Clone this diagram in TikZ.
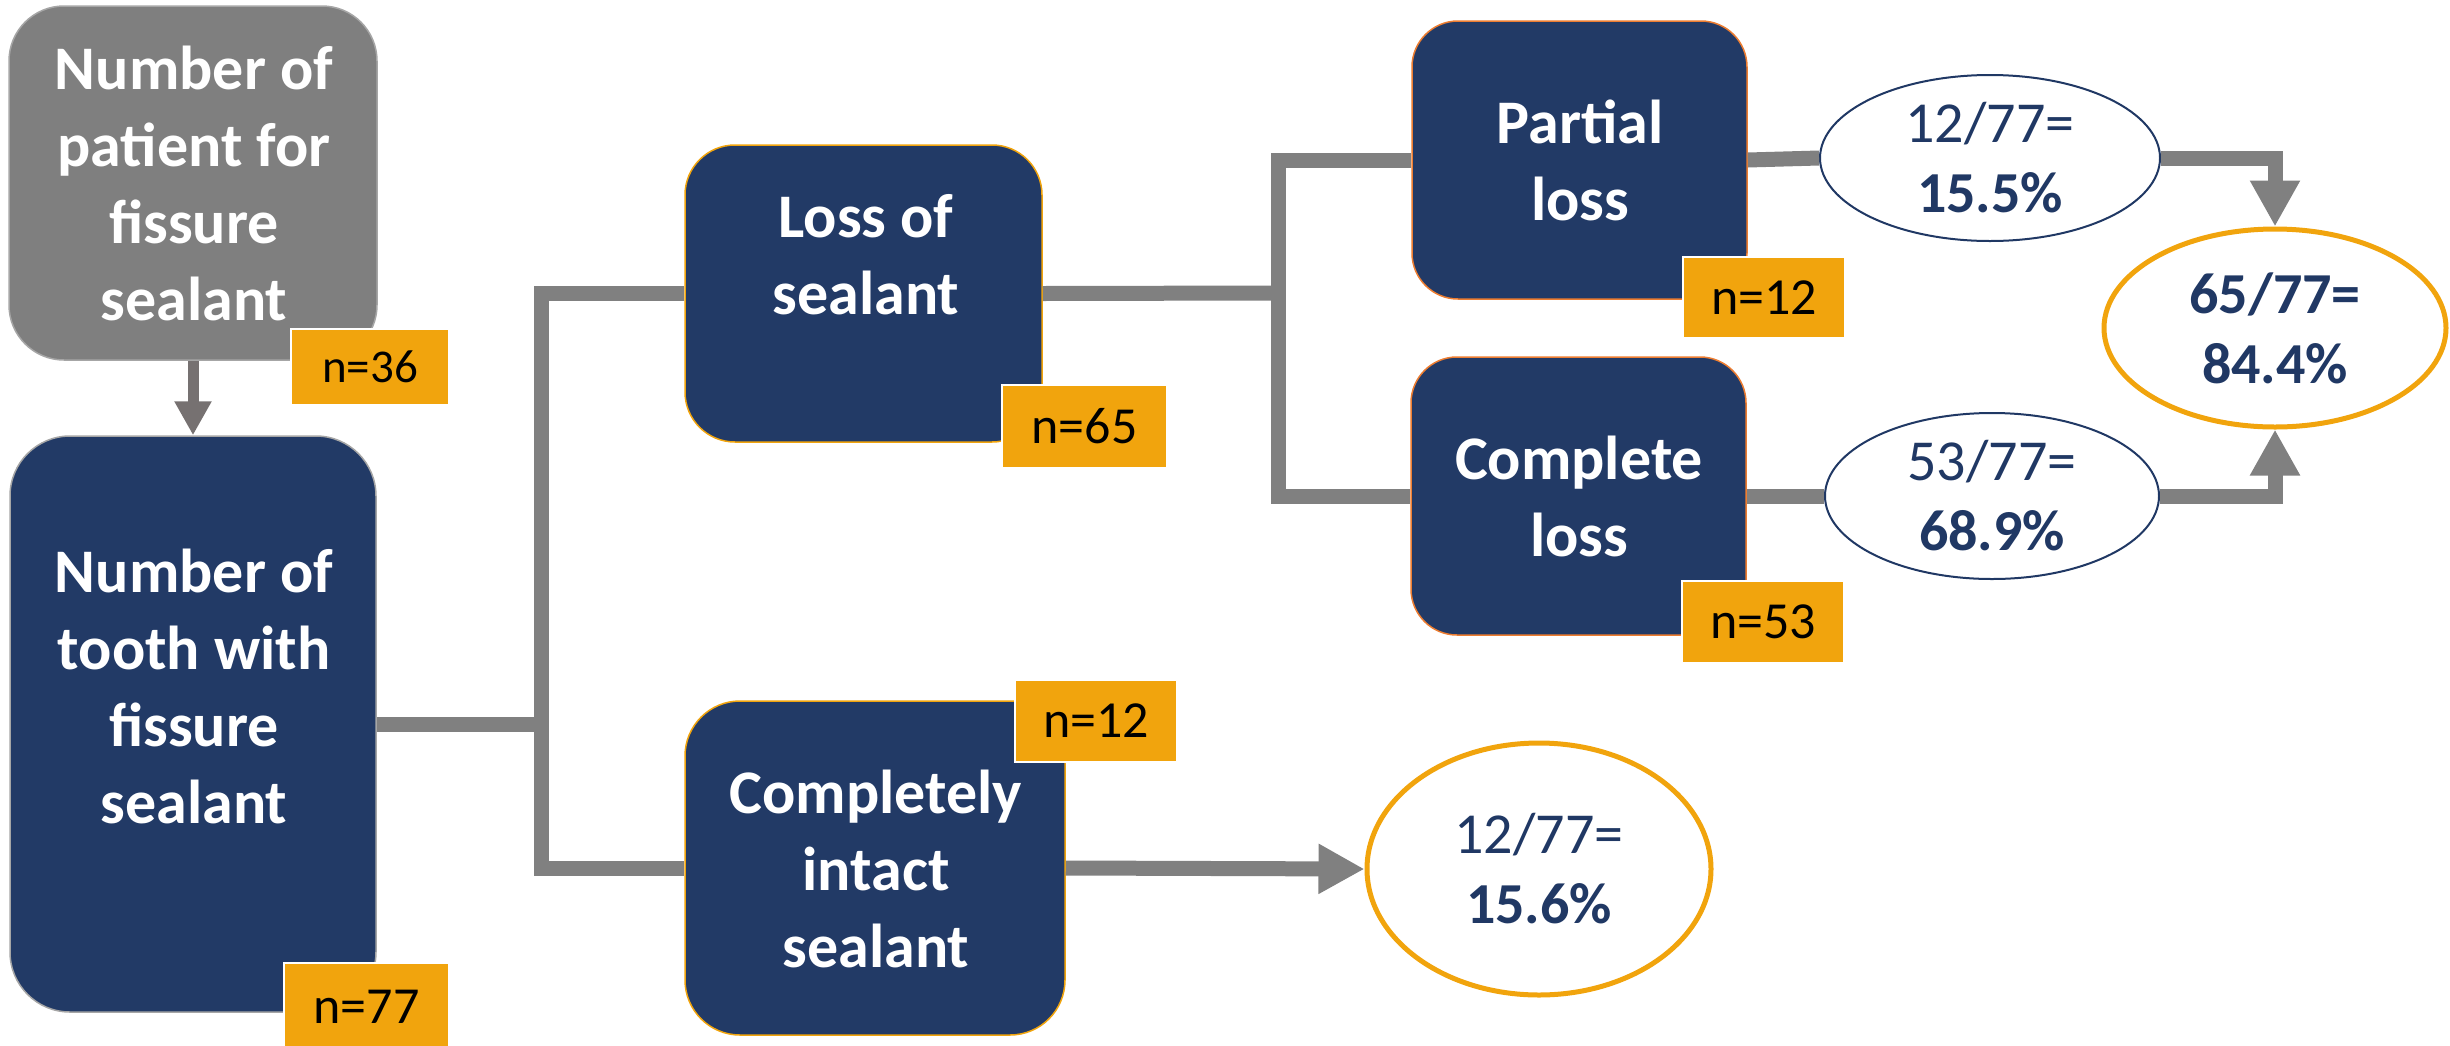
\documentclass[tikz,border=0pt]{standalone}
\usepackage{fontspec}
\setmainfont{Carlito}
\usetikzlibrary{arrows.meta,shapes.geometric}

\definecolor{navy}{HTML}{223A66}
\definecolor{navytext}{HTML}{203864}
\definecolor{amber}{HTML}{F1A40D}
\definecolor{rust}{HTML}{ED7D31}
\definecolor{linegray}{HTML}{808080}
\definecolor{darkarrow}{HTML}{767171}
\definecolor{boxgray}{HTML}{7F7F7F}
\definecolor{rimgray}{HTML}{A6A6A6}

\tikzset{
  card/.style={rectangle, inner sep=0pt, line width=1.5pt},
  cardtext/.style={text=white, inner sep=0pt, align=center,
    font=\bfseries\fontsize{62pt}{77pt}\selectfont},
  badge/.style={rectangle, inner sep=0pt, fill=amber, draw=white, line width=2pt,
    text=black, font=\fontsize{52pt}{60pt}\selectfont},
  oval/.style={ellipse, inner sep=0pt, fill=white, align=center, text=navytext,
    font=\fontsize{58pt}{70pt}\selectfont},
  conn/.style={draw=linegray, line width=15pt, line join=miter},
  bigtip/.style={-{Triangle[width=47pt,length=46pt]}}
}

\begin{document}
\begin{tikzpicture}[x=1pt,y=-1pt]
\useasboundingbox (0,0) rectangle (2450,1045);

% boxes
\node[card, fill=boxgray, draw=rimgray, minimum width=368pt, minimum height=354pt,
  rounded corners=55pt] (patients) at (193,183) {};
\node[card, fill=navy, draw=rimgray, minimum width=366pt, minimum height=576pt,
  rounded corners=60pt] (tooth) at (193,724) {};
\node[card, fill=navy, draw=amber, minimum width=357pt, minimum height=297pt,
  rounded corners=50pt] (loss) at (863.5,293.5) {};
\node[card, fill=navy, draw=amber, minimum width=380pt, minimum height=334pt,
  rounded corners=55pt] (intact) at (875,868) {};
\node[card, fill=navy, draw=rust, minimum width=335pt, minimum height=278pt,
  rounded corners=46pt] (partial) at (1579.5,160) {};
\node[card, fill=navy, draw=rust, minimum width=335pt, minimum height=278pt,
  rounded corners=46pt] (complete) at (1578.5,496) {};

% result ellipses
\node[oval, draw=navytext, line width=2pt, minimum width=340pt, minimum height=166pt]
  (pl) at (1990,158) {12/77=\\\textbf{15.5\%}};
\node[oval, draw=navytext, line width=2pt, minimum width=334pt, minimum height=166pt]
  (cl) at (1992,496) {53/77=\\\textbf{68.9\%}};
\node[oval, draw=amber, line width=5pt, minimum width=342pt, minimum height=198pt]
  (total) at (2275,328) {\textbf{65/77=}\\\textbf{84.4\%}};
\node[oval, draw=amber, line width=5pt, minimum width=344pt, minimum height=252pt]
  (kept) at (1539,869) {12/77=\\\textbf{15.6\%}};

% connectors
\coordinate (j1) at (541,724);
\coordinate (j2) at (1278,293);
\draw[line width=11pt, darkarrow, -{Triangle[width=35pt,length=34pt]}]
  (patients.south) -- (tooth.north);
\draw[conn] (tooth.east) -- (j1);
\draw[conn] (loss.west) -| (j1) |- (intact.west);
\draw[conn] (loss.east) -- (j2);
\draw[conn] (partial.west) -| (j2) |- (complete.west);
\draw[conn] (partial.east) -- (pl.west);
\draw[conn] (complete.east) -- (cl.west);
\draw[conn, bigtip] (pl.east) -| (total.north);
\draw[conn, bigtip] (cl.east) -| (total.south);
\draw[conn, bigtip] (intact.east) -- (kept.west);

% box labels
\node[cardtext] (patientst) at (194,183) {Number of\\patient for\\fissure\\sealant};
\node[cardtext] (tootht) at (194,686) {Number of\\tooth with\\fissure\\sealant};
\node[cardtext] (losst) at (866,255) {Loss of\\sealant};
\node[cardtext] (intactt) at (876,868.5) {Completely\\intact\\sealant};
\node[cardtext] (partialt) at (1580,160) {Partial\\loss};
\node[cardtext] (completet) at (1579,496.5) {Complete\\loss};

% counts
\node[badge, minimum width=158pt, minimum height=76pt,
  font=\fontsize{47pt}{56pt}\selectfont] (n36) at (370,367) {n=36};
\node[badge, minimum width=165pt, minimum height=87pt] (n77) at (366.5,1006.5) {n=77};
\node[badge, minimum width=165pt, minimum height=83pt] (n65) at (1084.5,426.5) {n=65};
\node[badge, minimum width=162pt, minimum height=82pt] (n12a) at (1096,721) {n=12};
\node[badge, minimum width=162pt, minimum height=81pt] (n12b) at (1764,297.5) {n=12};
\node[badge, minimum width=162pt, minimum height=82pt] (n53) at (1763,622) {n=53};
\end{tikzpicture}
\end{document}
